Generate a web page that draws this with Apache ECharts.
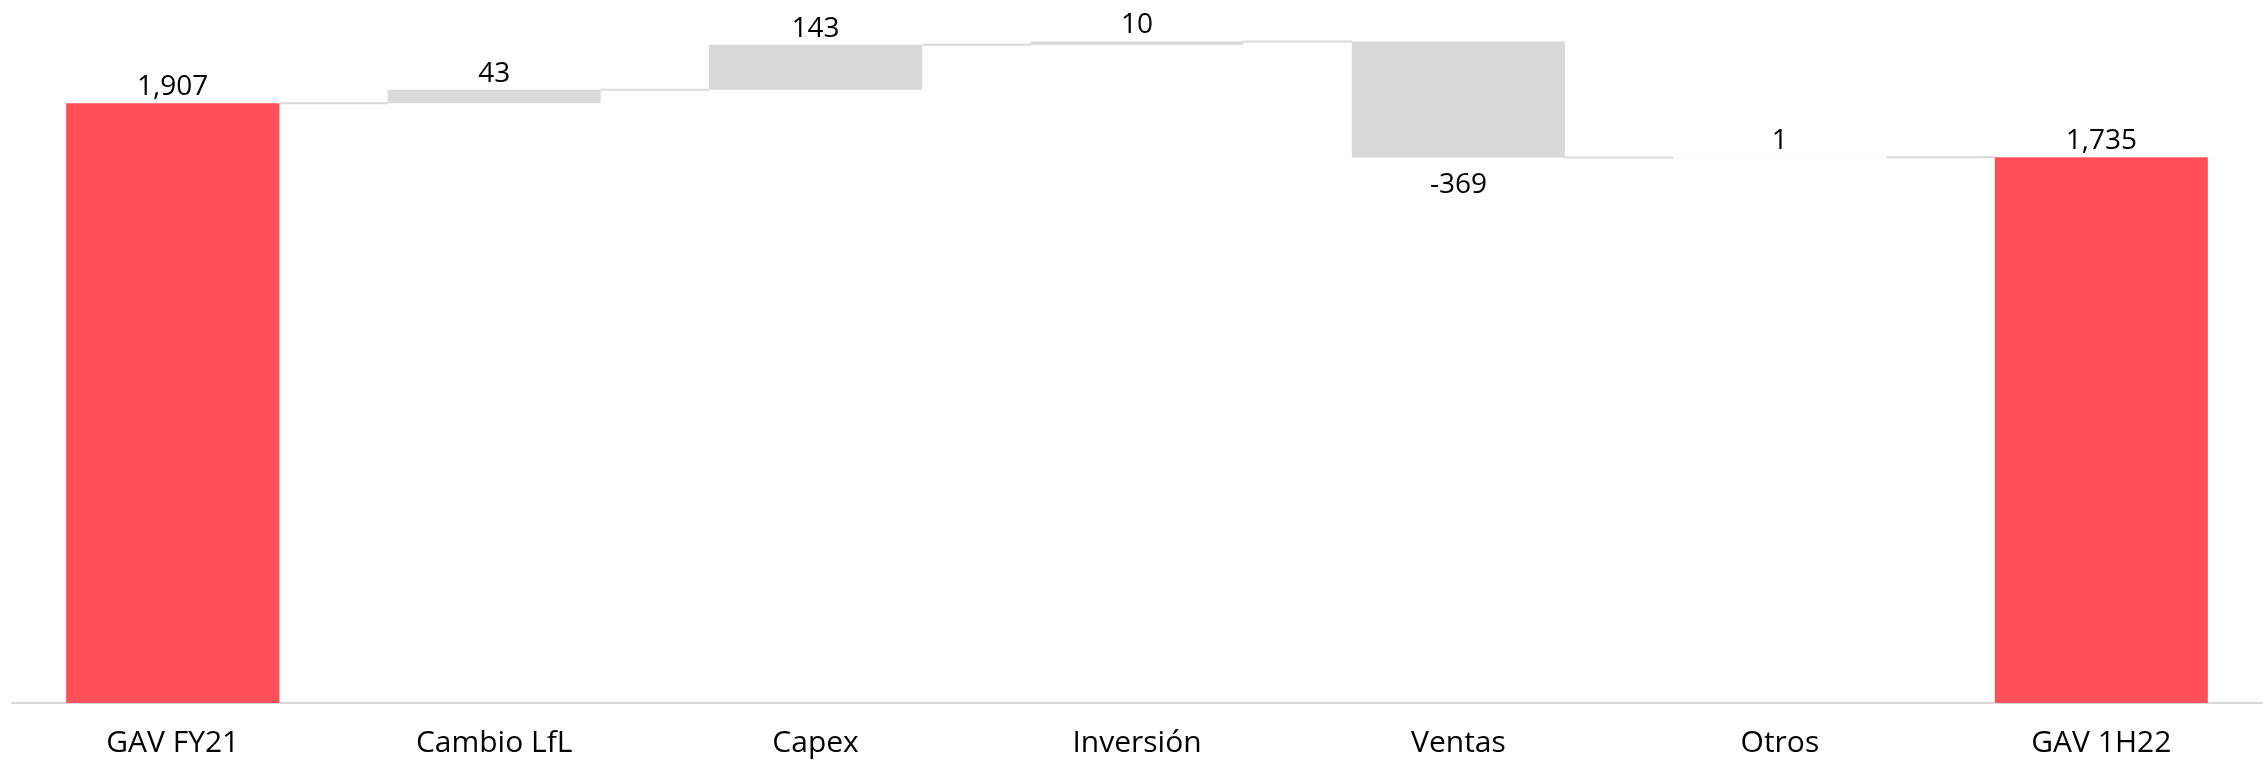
<!DOCTYPE html>
<html>
<head>
<meta charset="utf-8">
<script src="https://cdn.jsdelivr.net/npm/echarts@6/dist/echarts.min.js"></script>
<style>
html,body{margin:0;padding:0;background:#fff;}
#chart{width:2265px;height:763px;}
</style>
</head>
<body>
<div id="chart"></div>
<script>
const categories = ['GAV FY21', 'Cambio LfL', 'Capex', 'Inversión', 'Ventas', 'Otros', 'GAV 1H22'];
const values = [1907, 43, 143, 10, -369, 1, 1735];
const isTotal = [true, false, false, false, false, false, true];

const TOTAL_COLOR = '#FF505A';
const DELTA_COLOR = '#D9D9D9';
const FONT = '"Open Sans", "Noto Sans", sans-serif';

// derive waterfall pieces from the values
const base = [], visible = [], levels = [];
let running = 0;
values.forEach((v, i) => {
  if (isTotal[i]) {
    base.push(0);
    visible.push(v);
    running = v;
  } else {
    base.push(Math.min(running, running + v));
    visible.push(Math.abs(v));
    running += v;
  }
  levels.push(running);
});

const fmt = n => n.toLocaleString('en-US');
const BAR_FRAC = 0.663;

const visData = visible.map((h, i) => ({
  value: h,
  itemStyle: { color: isTotal[i] ? TOTAL_COLOR : (i === 5 ? '#F2F2F2' : DELTA_COLOR) },
  label: {
    show: true,
    position: values[i] < 0 ? 'bottom' : 'top',
    distance: values[i] < 0 ? 13 : 2,
    formatter: () => fmt(values[i])
  }
}));

const connectorData = levels.slice(0, -1).map((lv, i) => [i, lv]);

const chart = echarts.init(document.getElementById('chart'), null, { renderer: 'canvas' });
chart.setOption({
  animation: false,
  backgroundColor: '#fff',
  grid: { left: 12, right: 3, top: 11, bottom: 60, containLabel: false },
  xAxis: {
    type: 'category',
    data: categories,
    axisLine: { show: true, lineStyle: { color: '#D9D9D9', width: 2 } },
    axisTick: { show: false },
    axisLabel: { color: '#000', fontSize: 30, fontFamily: FONT, margin: 25 },
    splitLine: { show: false }
  },
  yAxis: {
    type: 'value',
    min: 0,
    max: 2200,
    show: false,
    splitLine: { show: false }
  },
  series: [
    {
      type: 'bar',
      stack: 'w',
      data: base,
      barWidth: (BAR_FRAC * 100) + '%',
      itemStyle: { color: 'transparent' },
      silent: true
    },
    {
      type: 'bar',
      stack: 'w',
      data: visData,
      barWidth: (BAR_FRAC * 100) + '%',
      label: { color: '#000', fontSize: 28, fontFamily: FONT }
    },
    {
      type: 'custom',
      data: connectorData,
      silent: true,
      z: 1,
      renderItem: (params, api) => {
        const i = api.value(0);
        const lv = api.value(1);
        const p1 = api.coord([i, lv]);
        const p2 = api.coord([i + 1, lv]);
        const bw = api.size([1, 0])[0] * BAR_FRAC;
        return {
          type: 'line',
          shape: { x1: p1[0] + bw / 2, y1: p1[1], x2: p2[0] - bw / 2, y2: p2[1] },
          style: { stroke: '#D9D9D9', lineWidth: 2 }
        };
      }
    }
  ]
});
</script>
</body>
</html>
